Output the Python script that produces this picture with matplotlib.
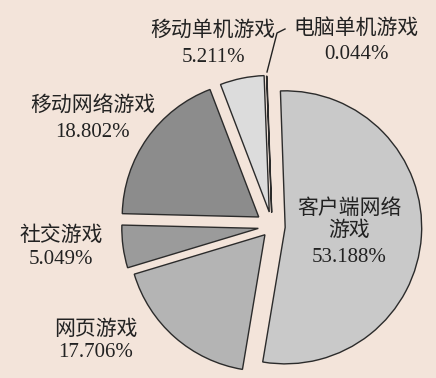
import matplotlib
matplotlib.use('Agg')
import matplotlib.pyplot as plt

plt.rcParams['font.family'] = ['Liberation Serif', 'Noto Sans CJK SC']

names = ['客户端网络\n游戏', '网页游戏', '社交游戏', '移动网络游戏', '移动单机游戏', '电脑单机游戏']
shares = [53.188, 17.706, 5.049, 18.802, 5.211, 0.044]
colors = ['#c9c9c9', '#b4b4b4', '#9b9b9b', '#8c8c8c', '#dcdcdc', '#e2e2e2']

# how far each slice is pulled out (pixels)
explode = [13.0, 11.0, 14.0, 16.5, 14.8, 14.0]

# label placement in pixels from top-left: (x, name y, value y)
label_pos = [(349, 220, 257.5), (96, 330, 352.5), (61, 236, 260),
             (92.5, 106, 132.5), (213, 31, 57.5), (356, 28.5, 54.5)]

W, H = 436, 378
bg = '#f3e4da'
ink = '#222222'


def main():
    fig = plt.figure(figsize=(W / 100, H / 100), dpi=100, facecolor=bg)
    ax = fig.add_axes([0, 0, 1, 1])
    ax.set_facecolor(bg)

    ax.pie(shares, colors=colors, startangle=92, counterclock=False,
           explode=explode, radius=136.5, center=(272.2, H - 226.5),
           wedgeprops=dict(edgecolor='#2b2b2b', linewidth=1.0))

    for name, v, (x, y1, y2) in zip(names, shares, label_pos):
        ax.text(x, H - y1, name, ha='center', va='center', fontsize=15,
                color=ink, linespacing=1.2)
        ax.text(x, H - y2, f'{v:.3f}%', ha='center', va='center',
                fontsize=15, color=ink)

    # leader line for the tiny slice
    ax.plot([267, 277, 285], [H - 72, H - 33, H - 29], color=ink, lw=1)

    ax.set_xlim(0, W)
    ax.set_ylim(0, H)
    ax.set_aspect('equal')
    ax.axis('off')
    fig.savefig('out.png', dpi=100, facecolor=bg)


if __name__ == "__main__":
    main()
